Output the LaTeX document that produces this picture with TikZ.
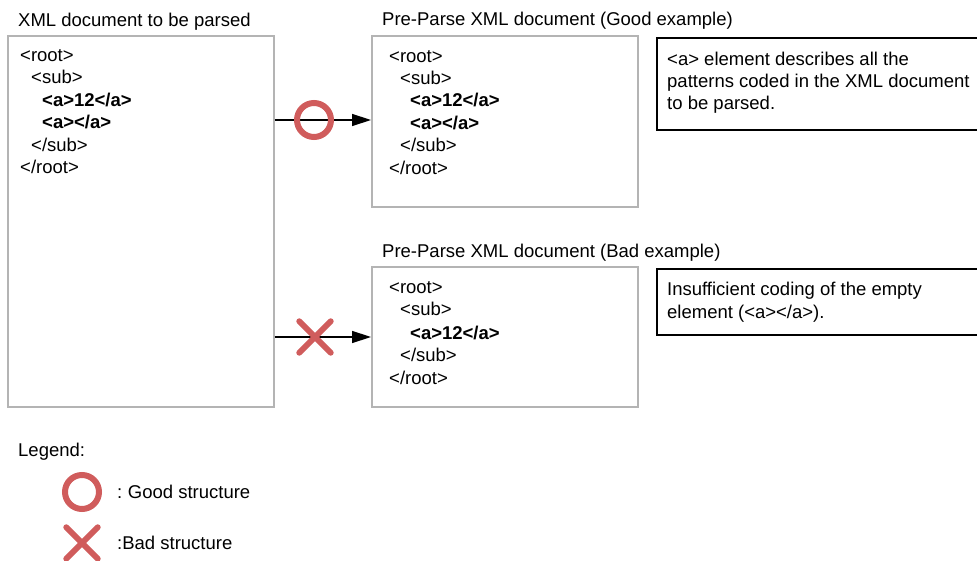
\documentclass[tikz,border=0pt]{standalone}
\usepackage{fontspec}
\setmainfont{Liberation Sans}
\usetikzlibrary{arrows.meta}
\definecolor{boxgray}{RGB}{180,180,180}
\definecolor{markred}{RGB}{208,92,92}
\tikzset{
  docbox/.style={draw=boxgray, line width=1.6pt, anchor=north west, inner sep=0pt},
  notebox/.style={draw=black, line width=1.6pt, anchor=north west, inner sep=0pt},
  lbl/.style={anchor=base west, inner sep=0pt, font=\fontsize{18.5}{22}\selectfont},
  code/.style={anchor=base west, inner sep=0pt, font=\fontsize{18.5}{22}\selectfont},
  bcode/.style={code, font=\fontsize{18.5}{22}\selectfont\bfseries},
  arr/.style={line width=1.4pt, -{Triangle[length=19pt,width=12pt]}},
  okmark/.style={circle, draw=markred, line width=6pt, minimum size=34pt, inner sep=0pt},
  ngmark/.style={minimum size=31pt, inner sep=0pt},
  ngstroke/.style={draw=markred, line width=6pt, line cap=round},
}
\begin{document}
\begin{tikzpicture}[x=1pt,y=-1pt]
\clip (0,0) rectangle (977,561);
\fill[white] (0,0) rectangle (977,561);

% titles
\node[lbl] (t1) at (18,27) {XML document to be parsed};
\node[lbl] (t2) at (382,26) {Pre-Parse XML document (Good example)};
\node[lbl] (t3) at (382,258) {Pre-Parse XML document (Bad example)};

% boxes
\node[docbox, minimum width=266pt, minimum height=371pt] (src) at (7,35) {};
\node[docbox, minimum width=266pt, minimum height=171pt] (good) at (371,35) {};
\node[docbox, minimum width=266pt, minimum height=140pt] (bad) at (371,266) {};
\node[notebox, minimum width=330pt, minimum height=92pt] (n1) at (656,37) {};
\node[notebox, minimum width=330pt, minimum height=66pt] (n2) at (656,268) {};

% source code
\node[code] (s1) at (20,62) {<root>};
\node[code] (s2) at (31,84) {<sub>};
\node[bcode] (s3) at (42,107) {<a>12</a>};
\node[bcode] (s4) at (42,129) {<a></a>};
\node[code] (s5) at (31,152) {</sub>};
\node[code] (s6) at (20,174) {</root>};

% good code
\node[code] (g1) at (389,63) {<root>};
\node[code] (g2) at (400,85) {<sub>};
\node[bcode] (g3) at (410,107) {<a>12</a>};
\node[bcode] (g4) at (410,130) {<a></a>};
\node[code] (g5) at (400,152) {</sub>};
\node[code] (g6) at (389,175) {</root>};

% bad code
\node[code] (b1) at (389,294) {<root>};
\node[code] (b2) at (400,316) {<sub>};
\node[bcode] (b3) at (410,339) {<a>12</a>};
\node[code] (b4) at (400,361) {</sub>};
\node[code] (b5) at (389,384) {</root>};

% notes
\node[lbl] (n1a) at (667,66) {<a> element describes all the};
\node[lbl] (n1b) at (667,88) {patterns coded in the XML document};
\node[lbl] (n1c) at (667,110) {to be parsed.};
\node[lbl] (n2a) at (667,296) {Insufficient coding of the empty};
\node[lbl] (n2b) at (667,318) {element (<a></a>).};

% marks and arrows
\coordinate (okpos) at (314,120);
\coordinate (ngpos) at (315,337);
\draw[arr] (src.east |- okpos) -- (good.west |- okpos);
\draw[arr] (src.east |- ngpos) -- (bad.west |- ngpos);
\node[okmark] (ok) at (okpos) {};
\node[ngmark] (ng) at (ngpos) {};
\draw[ngstroke] (ng.north west) -- (ng.south east) (ng.north east) -- (ng.south west);

% legend
\node[lbl] (leg) at (18,456) {Legend:};
\node[okmark] (lok) at (82,492) {};
\node[ngmark] (lng) at (82,543) {};
\draw[ngstroke] (lng.north west) -- (lng.south east) (lng.north east) -- (lng.south west);
\node[lbl] (lokt) at (117,498) {:\hspace{0.3em}Good structure};
\node[lbl] (lngt) at (117,549) {:Bad structure};
\end{tikzpicture}
\end{document}
